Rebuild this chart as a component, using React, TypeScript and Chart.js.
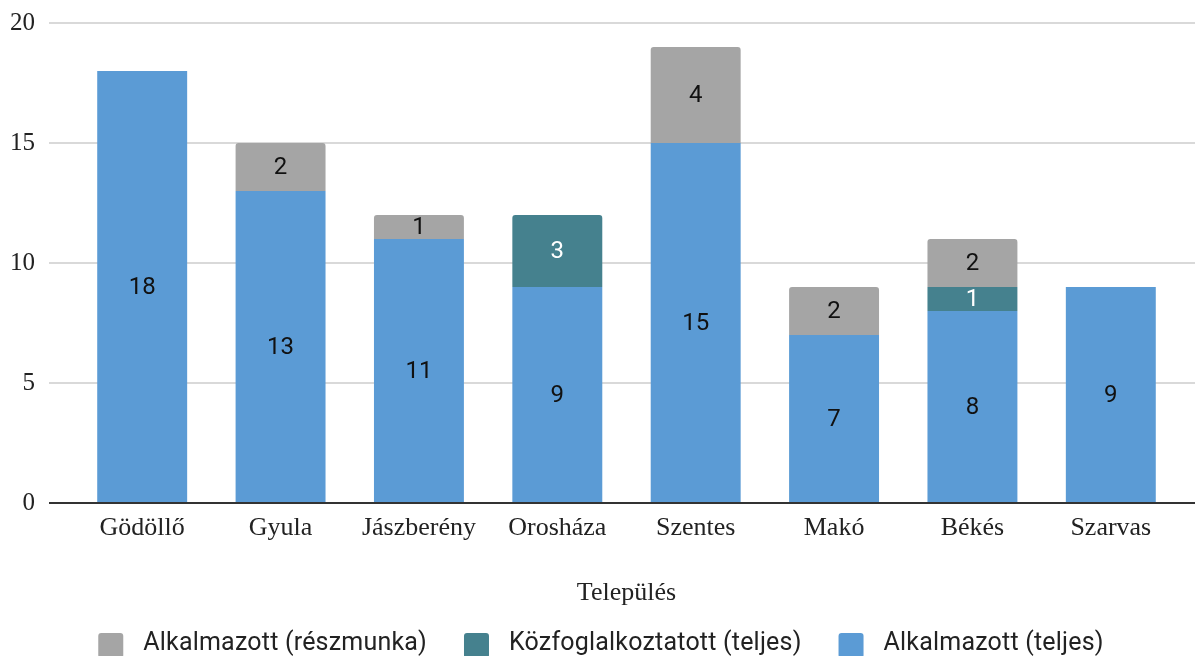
import React, { useEffect, useRef } from "react";
import { Chart, registerables } from "chart.js";

Chart.register(...registerables);

const categories = ["Gödöllő", "Gyula", "Jászberény", "Orosháza", "Szentes", "Makó", "Békés", "Szarvas"];
const fullTimeEmployed = [18, 13, 11, 9, 15, 7, 8, 9];
const publicWorkers = [null, null, null, 3, null, null, 1, null];
const partTimeEmployed = [null, 2, 1, null, 4, 2, 2, null];
const yTicks = [0, 5, 10, 15, 20];
const axisTitle = "Település";

const seriesNames = ["Alkalmazott (teljes)", "Közfoglalkoztatott (teljes)", "Alkalmazott (részmunka)"];
const seriesColors = ["#5B9BD5", "#45818E", "#A5A5A5"];
const labelColors = ["#111111", "#FFFFFF", "#111111"];

const SERIF = "'Liberation Serif', 'Times New Roman', serif";
const SANS = "Roboto, 'Noto Sans', sans-serif";

const gridPlugin = {
  id: "fullGrid",
  beforeDatasetsDraw(chart: any) {
    const ctx = chart.ctx;
    const y = chart.scales.y;
    ctx.save();
    ctx.strokeStyle = "#D9D9D9";
    ctx.lineWidth = 2;
    yTicks.forEach((v) => {
      if (v === 0) return;
      const py = Math.round(y.getPixelForValue(v));
      ctx.beginPath();
      ctx.moveTo(49, py);
      ctx.lineTo(chart.width, py);
      ctx.stroke();
    });
    ctx.restore();
  },
  afterDatasetsDraw(chart: any) {
    const ctx = chart.ctx;
    const y = chart.scales.y;
    ctx.save();
    chart.data.datasets.forEach((ds: any, di: number) => {
      const meta = chart.getDatasetMeta(di);
      meta.data.forEach((el: any, i: number) => {
        const v = ds.data[i];
        if (v === null || v === undefined) return;
        ctx.fillStyle = labelColors[di];
        ctx.font = `24px ${SANS}`;
        ctx.textAlign = "center";
        ctx.textBaseline = "middle";
        ctx.fillText(String(v), el.x, (el.y + el.base) / 2 + 1);
      });
    });
    const py = Math.round(y.getPixelForValue(0));
    ctx.strokeStyle = "#333333";
    ctx.lineWidth = 2;
    ctx.beginPath();
    ctx.moveTo(49, py);
    ctx.lineTo(chart.width, py);
    ctx.stroke();
    ctx.restore();
  },
  afterDraw(chart: any) {
    const ctx = chart.ctx;
    ctx.save();
    ctx.font = `25px ${SANS}`;
    (ctx as any).letterSpacing = "0.2px";
    const order = [2, 1, 0];
    const box = 25;
    const gapText = 20;
    const gapItem = 37;
    const widths = order.map((i) => box + gapText + ctx.measureText(seriesNames[i]).width);
    const total = widths.reduce((a, b) => a + b, 0) + gapItem * (order.length - 1);
    let x = 601 - total / 2;
    const cy = 644;
    order.forEach((i, k) => {
      ctx.fillStyle = seriesColors[i];
      ctx.beginPath();
      (ctx as any).roundRect(x, 633, box, box, 3);
      ctx.fill();
      ctx.fillStyle = "#222222";
      ctx.textAlign = "left";
      ctx.textBaseline = "middle";
      ctx.fillText(seriesNames[i], x + box + gapText, cy);
      x += widths[k] + gapItem;
    });
    ctx.restore();
  },
};

export default function App() {
  const ref = useRef<HTMLCanvasElement | null>(null);
  useEffect(() => {
    document.body.style.margin = "0";
    const canvas = ref.current;
    if (!canvas) return;
    const values = [fullTimeEmployed, publicWorkers, partTimeEmployed];
    const chart = new Chart(canvas, {
      type: "bar",
      data: {
        labels: categories,
        datasets: values.map((d, i) => ({
          label: seriesNames[i],
          data: d as any,
          backgroundColor: seriesColors[i],
          borderWidth: 0,
          borderRadius: i === 0 ? 0 : 3,
          borderSkipped: "start" as any,
          barPercentage: 0.65,
          categoryPercentage: 1,
        })),
      },
      options: {
        responsive: false,
        animation: false,
        devicePixelRatio: 1,
        layout: { padding: { left: 0, right: 15, top: 23, bottom: 43 } },
        plugins: {
          legend: { display: false },
          tooltip: { enabled: false },
        },
        scales: {
          x: {
            stacked: true,
            grid: { display: false, drawTicks: false },
            border: { display: false },
            ticks: { font: { family: SERIF, size: 26 }, color: "#222222", padding: 10, maxRotation: 0, autoSkip: false },
            title: {
              display: true,
              text: axisTitle,
              font: { family: SERIF, size: 26 },
              color: "#222222",
              padding: { top: 0, bottom: 4 },
            },
            afterFit: (s: any) => {
              s.height = 110;
              s.paddingLeft = 0;
              s.paddingRight = 0;
            },
          },
          y: {
            stacked: true,
            min: 0,
            max: 20,
            afterBuildTicks: (s: any) => {
              s.ticks = yTicks.map((v) => ({ value: v }));
            },
            grid: { display: false, drawTicks: false },
            border: { display: false },
            ticks: { font: { family: SERIF, size: 25 }, color: "#222222", padding: 38 },
            afterFit: (s: any) => {
              s.width = 73;
              s.paddingTop = 0;
              s.paddingBottom = 0;
            },
          },
        },
      },
      plugins: [gridPlugin],
    });
    return () => chart.destroy();
  }, []);
  return (
    <div style={{ width: 1195, height: 656, position: "relative", background: "#fff" }}>
      <canvas ref={ref} width={1195} height={656} style={{ display: "block" }} />
    </div>
  );
}
